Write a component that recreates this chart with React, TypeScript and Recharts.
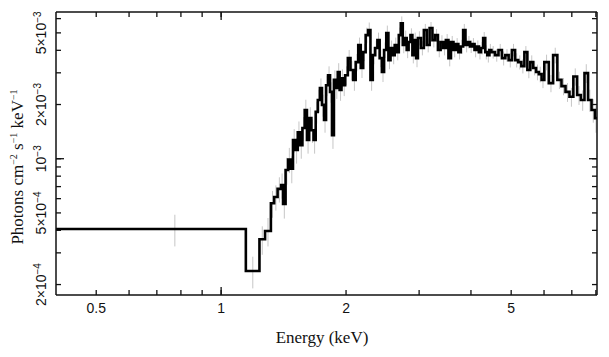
import { ComposedChart, ErrorBar, Line, XAxis, YAxis } from "recharts";

// lower bin edges in keV, last entry closes the final bin
const binEdges = [
  0.4, 1.147, 1.237, 1.276, 1.318, 1.342, 1.368, 1.395, 1.41,
  1.43, 1.45, 1.47, 1.49, 1.51, 1.53, 1.55, 1.57, 1.59, 1.61, 1.63, 1.65, 1.67, 1.69,
  1.71, 1.73, 1.75, 1.77, 1.79, 1.81, 1.83, 1.85, 1.87, 1.89, 1.91, 1.93, 1.95, 1.97,
  1.99, 2.02, 2.05, 2.08, 2.11, 2.14, 2.17, 2.2, 2.23, 2.26, 2.29, 2.32, 2.35, 2.38,
  2.41, 2.44, 2.47, 2.5, 2.53, 2.56, 2.59, 2.62, 2.65, 2.68, 2.71, 2.74, 2.77, 2.8,
  2.83, 2.86, 2.89, 2.92, 2.95,
  2.98, 3.03, 3.08, 3.13, 3.18, 3.23, 3.28, 3.33, 3.38, 3.43, 3.48, 3.53, 3.58, 3.63,
  3.68, 3.73, 3.78, 3.83, 3.88, 3.93, 3.98, 4.03, 4.08, 4.13, 4.18, 4.23, 4.28, 4.33,
  4.38, 4.43,
  4.48, 4.57, 4.66, 4.75, 4.84, 4.93, 5.02, 5.11, 5.2, 5.29, 5.38, 5.47, 5.56, 5.65,
  5.74, 5.83, 5.92,
  6.01, 6.16, 6.31, 6.46, 6.61, 6.76, 6.91, 7.06, 7.21, 7.36, 7.51, 7.66, 7.81, 7.96,
  8.05,
];

// photons cm^-2 s^-1 keV^-1, in units of 1e-3
const flux = [
  0.407, 0.238, 0.357, 0.397, 0.566, 0.613, 0.68, 0.714, 0.56,
  0.865, 0.99, 0.88, 1.27, 1.118, 1.4, 1.19, 1.48, 1.865, 1.27, 1.68, 1.44, 1.27, 1.82,
  2.12, 2.47, 1.99, 1.64, 2.56, 2.91, 2.35, 1.35, 2.74, 2.47, 3.03, 2.41, 2.8, 2.56,
  2.91, 3.62, 3.11, 2.74, 3.44, 4.28, 3.19, 3.91, 4.86, 5.19, 2.74, 3.76, 4.12, 4.56,
  3.62, 3.03, 4.02, 4.99, 3.53, 4.12, 3.76, 4.28, 3.91, 4.86, 5.66, 4.28, 4.68, 4.02,
  4.45, 4.86, 3.76, 4.56, 3.62,
  4.68, 4.12, 5.19, 4.28, 5.32, 4.56, 4.86, 4.02, 4.45, 4.12, 4.56, 3.62, 4.45, 4.02,
  4.33, 3.91, 4.2, 5.19, 4.28, 4.45, 4.2, 4.33, 4.02, 4.2, 3.91, 4.12, 4.68, 3.91,
  3.76, 4.02,
  3.91, 3.76, 4.02, 3.62, 3.76, 3.53, 4.02, 3.53, 3.44, 3.27, 3.91, 3.11, 3.44, 3.19,
  3.03, 2.95, 2.74,
  3.44, 2.63, 3.76, 2.74, 2.53, 2.35, 2.21, 2.86, 2.26, 2.12, 2.99, 2.12, 1.865, 1.68,
];

// relative 1-sigma error per bin
const relErr = [
  0.2, 0.2, 0.18, 0.18, 0.17, 0.16, 0.16, 0.16, 0.17,
  0.17, 0.16, 0.17, 0.15, 0.16, 0.15, 0.16, 0.15, 0.14, 0.16, 0.15, 0.15, 0.16, 0.14,
  0.14, 0.13, 0.14, 0.15, 0.13, 0.12, 0.13, 0.16, 0.13, 0.13, 0.12, 0.13, 0.12, 0.13,
  0.12, 0.11, 0.12, 0.13, 0.11, 0.1, 0.12, 0.11, 0.1, 0.1, 0.13, 0.11, 0.1, 0.1,
  0.11, 0.12, 0.1, 0.1, 0.11, 0.1, 0.11, 0.1, 0.1, 0.1, 0.09, 0.1, 0.1, 0.1,
  0.1, 0.09, 0.1, 0.1, 0.11,
  0.09, 0.09, 0.08, 0.09, 0.08, 0.09, 0.08, 0.09, 0.09, 0.09, 0.08, 0.1, 0.08, 0.09,
  0.08, 0.09, 0.09, 0.08, 0.09, 0.08, 0.08, 0.08, 0.09, 0.08, 0.09, 0.08, 0.08, 0.09,
  0.09, 0.08,
  0.08, 0.08, 0.08, 0.09, 0.08, 0.09, 0.08, 0.09, 0.09, 0.09, 0.08, 0.1, 0.09, 0.09,
  0.1, 0.1, 0.1,
  0.1, 0.11, 0.1, 0.11, 0.11, 0.12, 0.12, 0.11, 0.12, 0.13, 0.12, 0.14, 0.15, 0.17,
];

const xTicks = [0.5, 0.6, 0.7, 0.8, 0.9, 1, 2, 3, 4, 5, 6, 7, 8];
const xLabelled = [0.5, 1, 2, 5];
const yTicks = [2e-4, 3e-4, 4e-4, 5e-4, 6e-4, 7e-4, 8e-4, 9e-4, 1e-3, 2e-3, 3e-3, 4e-3, 5e-3, 6e-3];
const yLabelled: Record<string, [string, string]> = {
  "0.0002": ["2×10", "−4"],
  "0.0005": ["5×10", "−4"],
  "0.001": ["10", "−3"],
  "0.002": ["2×10", "−3"],
  "0.005": ["5×10", "−3"],
};

const xDomain = [0.4, 8.05];
const yDomain = [1.75e-4, 6.53e-3];

const stepData = binEdges.map((e, i) => ({
  e,
  v: flux[Math.min(i, flux.length - 1)] * 1e-3,
}));

const errData = flux.map((f, i) => {
  const v = f * 1e-3;
  return {
    e: (binEdges[i] + binEdges[i + 1]) / 2,
    v,
    err: [v * relErr[i], v * relErr[i]],
  };
});

const SANS = "'Liberation Sans', Arial, sans-serif";
const SERIF = "'Liberation Serif', 'Times New Roman', serif";
const INK = "#111";
const TICK = -5; // inward tick length
const MAJOR = 8; // decade ticks are longer

const frame = { stroke: INK, strokeWidth: 1.5 };
const tickStroke = { stroke: INK, strokeWidth: 1.3 };

// with tickSize -5 and tickMargin 5, (x, y) lands on the axis line
function BottomTick(props: any) {
  const { x, y, payload } = props;
  const v = payload.value;
  return (
    <g>
      {v === 1 && <line x1={x} y1={y} x2={x} y2={y - MAJOR} {...tickStroke} />}
      {xLabelled.includes(v) && (
        <text x={x} y={y + 18} textAnchor="middle" fontSize={14} fontFamily={SANS} fill={INK}>
          {String(v)}
        </text>
      )}
    </g>
  );
}

function TopTick(props: any) {
  const { x, y, payload } = props;
  if (payload.value !== 1) return <g />;
  return <line x1={x} y1={y} x2={x} y2={y + MAJOR} {...tickStroke} />;
}

function LeftTick(props: any) {
  const { x, y, payload } = props;
  const v = payload.value;
  const lab = yLabelled[String(v)];
  const tx = x - 10;
  return (
    <g>
      {v === 1e-3 && <line x1={x} y1={y} x2={x + MAJOR} y2={y} {...tickStroke} />}
      {lab && (
        <text
          x={tx}
          y={y}
          textAnchor="middle"
          fontSize={14}
          fontFamily={SANS}
          fill={INK}
          transform={`rotate(-90 ${tx} ${y})`}
        >
          {lab[0]}
          <tspan dy={-5} fontSize={10}>
            {lab[1]}
          </tspan>
        </text>
      )}
    </g>
  );
}

function RightTick(props: any) {
  const { x, y, payload } = props;
  if (payload.value !== 1e-3) return <g />;
  return <line x1={x} y1={y} x2={x - MAJOR} y2={y} {...tickStroke} />;
}

export default function App() {
  return (
    <div style={{ position: "absolute", left: 0, top: 0, background: "#fff" }}>
      <ComposedChart width={609} height={357} margin={{ top: 11, right: 11, bottom: 0, left: 0 }}>
        <XAxis
          xAxisId="bottom"
          dataKey="e"
          type="number"
          scale="log"
          domain={xDomain}
          allowDataOverflow
          ticks={xTicks}
          interval={0}
          height={62}
          tickSize={TICK}
          tickMargin={5}
          tickLine={tickStroke}
          axisLine={frame}
          tick={(p: any) => <BottomTick {...p} />}
        />
        <XAxis
          xAxisId="top"
          orientation="top"
          dataKey="e"
          type="number"
          scale="log"
          domain={xDomain}
          allowDataOverflow
          ticks={xTicks}
          interval={0}
          height={1}
          tickSize={TICK}
          tickMargin={5}
          tickLine={tickStroke}
          axisLine={frame}
          tick={(p: any) => <TopTick {...p} />}
        />
        <YAxis
          yAxisId="left"
          type="number"
          scale="log"
          domain={yDomain}
          allowDataOverflow
          ticks={yTicks}
          interval={0}
          width={56}
          tickSize={TICK}
          tickMargin={5}
          tickLine={tickStroke}
          axisLine={frame}
          tick={(p: any) => <LeftTick {...p} />}
        />
        <YAxis
          yAxisId="right"
          orientation="right"
          type="number"
          scale="log"
          domain={yDomain}
          allowDataOverflow
          ticks={yTicks}
          interval={0}
          width={1}
          tickSize={TICK}
          tickMargin={5}
          tickLine={tickStroke}
          axisLine={frame}
          tick={(p: any) => <RightTick {...p} />}
        />
        <Line
          xAxisId="top"
          yAxisId="right"
          data={stepData}
          dataKey="v"
          stroke="none"
          dot={false}
          activeDot={false}
          isAnimationActive={false}
        />
        <Line
          xAxisId="bottom"
          yAxisId="left"
          data={errData}
          dataKey="v"
          stroke="none"
          dot={false}
          activeDot={false}
          isAnimationActive={false}
        >
          <ErrorBar dataKey="err" width={0} stroke="#c6c6c6" strokeWidth={1} direction="y" isAnimationActive={false} />
        </Line>
        <Line
          xAxisId="bottom"
          yAxisId="left"
          data={stepData}
          dataKey="v"
          type="stepAfter"
          stroke="#000"
          strokeWidth={2.6}
          dot={false}
          activeDot={false}
          isAnimationActive={false}
        />
        <text x={322} y={343} textAnchor="middle" fontSize={17} fontFamily={SERIF} fill={INK}>
          Energy (keV)
        </text>
        <text
          x={23}
          y={167}
          textAnchor="middle"
          fontSize={17}
          fontFamily={SERIF}
          fill={INK}
          transform="rotate(-90 23 167)"
        >
          Photons cm
          <tspan dy={-6} fontSize={10}>
            −2
          </tspan>
          <tspan dy={6}> s</tspan>
          <tspan dy={-6} fontSize={10}>
            −1
          </tspan>
          <tspan dy={6}> keV</tspan>
          <tspan dy={-6} fontSize={10}>
            −1
          </tspan>
        </text>
      </ComposedChart>
    </div>
  );
}
